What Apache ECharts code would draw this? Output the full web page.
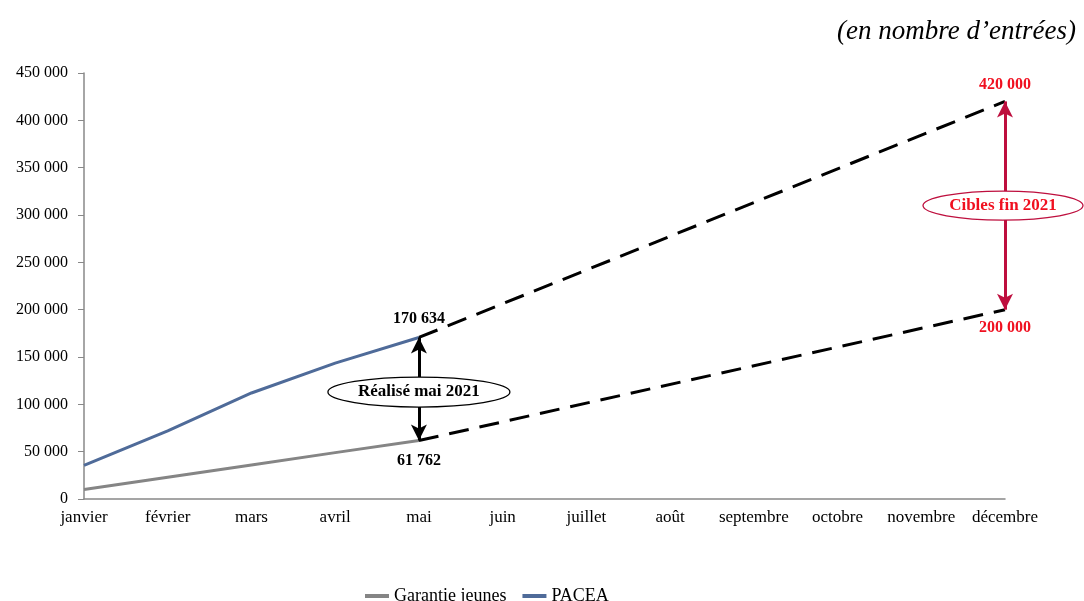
<!DOCTYPE html>
<html>
<head>
<meta charset="utf-8">
<script src="https://cdn.jsdelivr.net/npm/echarts@6/dist/echarts.min.js"></script>
<style>html,body{margin:0;padding:0;background:#fff}#c{width:1084px;height:601px}</style>
</head>
<body>
<div id="c"></div>
<script>
const months = ['janvier','février','mars','avril','mai','juin','juillet','août','septembre','octobre','novembre','décembre'];
const garantieJeunes = [10000, 23000, 36000, 49000, 61762, null, null, null, null, null, null, null];
const pacea = [35500, 72000, 112000, 143500, 170634, null, null, null, null, null, null, null];
// projections: realised May value to end-2021 target
const gjProjection = [null, null, null, null, 61762, null, null, null, null, null, null, 200000];
const paceaProjection = [null, null, null, null, 170634, null, null, null, null, null, null, 420000];
const yTicks = [0, 50000, 100000, 150000, 200000, 250000, 300000, 350000, 400000, 450000];
const realisedIdx = 4, targetIdx = 11;
const realisedText = 'Réalisé mai 2021';
const targetText = 'Cibles fin 2021';

const FONT = 'Liberation Serif';
const RED = '#F01020';
const CRIMSON = '#BE0F3E';
const fmt = v => String(Math.round(v)).replace(/\B(?=(\d{3})+(?!\d))/g, ' ');

function valueMark(idx, value, pos, dist, color) {
  return {
    coord: [idx, value], value: value, symbol: 'rect', symbolSize: 1,
    itemStyle: { color: 'rgba(0,0,0,0)' },
    label: { show: true, position: pos, distance: dist, formatter: p => fmt(p.value), color: color, fontFamily: FONT, fontWeight: 'bold', fontSize: 16 }
  };
}

const chart = echarts.init(document.getElementById('c'));
chart.setOption({
  animation: false,
  title: {
    text: '(en nombre d’entrées)',
    right: 3, top: 13,
    textStyle: { fontFamily: FONT, fontStyle: 'italic', fontWeight: 'normal', fontSize: 27, color: '#000' }
  },
  legend: {
    data: ['Garantie jeunes', 'PACEA'],
    top: 582, left: 360,
    icon: 'rect', itemWidth: 24, itemHeight: 4, itemGap: 16,
    textStyle: { fontFamily: FONT, fontSize: 18, color: '#000' }
  },
  grid: { left: 84, right: 79, top: 73, bottom: 102, containLabel: false },
  xAxis: {
    type: 'category', data: months, boundaryGap: false,
    axisLine: { lineStyle: { color: '#888', width: 1.5 } },
    axisTick: { show: false },
    axisLabel: { fontFamily: FONT, fontSize: 17, color: '#000', margin: 10, interval: 0 }
  },
  yAxis: {
    type: 'value', min: yTicks[0], max: yTicks[yTicks.length - 1], interval: 50000,
    axisLine: { show: true, lineStyle: { color: '#888', width: 1.5 } },
    axisTick: { show: true, length: 6, lineStyle: { color: '#888' } },
    splitLine: { show: false },
    axisLabel: { fontFamily: FONT, fontSize: 16, color: '#000', margin: 16, formatter: v => fmt(v) }
  },
  series: [
    {
      name: 'Garantie jeunes', type: 'line', data: garantieJeunes, showSymbol: false,
      lineStyle: { color: '#858585', width: 3 }, itemStyle: { color: '#858585' }, z: 3
    },
    {
      name: 'PACEA', type: 'line', data: pacea, showSymbol: false,
      lineStyle: { color: '#4F6B99', width: 3 }, itemStyle: { color: '#4F6B99' }, z: 3
    },
    {
      name: 'proj_gj', type: 'line', connectNulls: true, showSymbol: false,
      data: gjProjection,
      lineStyle: { color: '#000', width: 3, type: [20, 11] }, z: 2,
      markLine: {
        silent: true, symbol: ['arrow', 'arrow'], symbolSize: [12, 16], label: { show: false },
        lineStyle: { color: '#000', width: 3, type: 'solid' },
        data: [[{ coord: [realisedIdx, pacea[realisedIdx]] }, { coord: [realisedIdx, garantieJeunes[realisedIdx]] }]]
      },
      markPoint: {
        silent: true,
        data: [
          valueMark(realisedIdx, gjProjection[realisedIdx], 'bottom', 12, '#000'),
          valueMark(targetIdx, gjProjection[targetIdx], 'bottom', 10, RED)
        ]
      }
    },
    {
      name: 'proj_pacea', type: 'line', connectNulls: true, showSymbol: false,
      data: paceaProjection,
      lineStyle: { color: '#000', width: 3, type: [20, 11] }, z: 2,
      markLine: {
        silent: true, symbol: ['arrow', 'arrow'], symbolSize: [12, 16], label: { show: false },
        lineStyle: { color: CRIMSON, width: 3, type: 'solid' },
        data: [[{ coord: [targetIdx, paceaProjection[targetIdx]] }, { coord: [targetIdx, gjProjection[targetIdx]] }]]
      },
      markPoint: {
        silent: true,
        data: [
          valueMark(realisedIdx, paceaProjection[realisedIdx], 'top', 10, '#000'),
          valueMark(targetIdx, paceaProjection[targetIdx], 'top', 8, RED)
        ]
      }
    }
  ]
});

// Ellipse callouts, placed with the chart's own coordinate conversion
const pR = chart.convertToPixel({ gridIndex: 0 }, [realisedIdx, 113000]);
const pT = chart.convertToPixel({ gridIndex: 0 }, [targetIdx, 310000]);
function callout(p, rx, ry, stroke, text, color) {
  return [
    { type: 'ellipse', z: 100, shape: { cx: p[0], cy: p[1], rx: rx, ry: ry }, style: { fill: '#fff', stroke: stroke, lineWidth: 1.3 } },
    { type: 'text', z: 101, x: p[0], y: p[1], style: { text: text, fill: color, font: 'bold 17px "' + FONT + '"', align: 'center', verticalAlign: 'middle' } }
  ];
}
chart.setOption({
  graphic: [].concat(
    callout(pR, 91, 15, '#000', realisedText, '#000'),
    callout([pT[0] - 2, pT[1]], 80, 14.5, CRIMSON, targetText, RED)
  )
});
</script>
</body>
</html>
